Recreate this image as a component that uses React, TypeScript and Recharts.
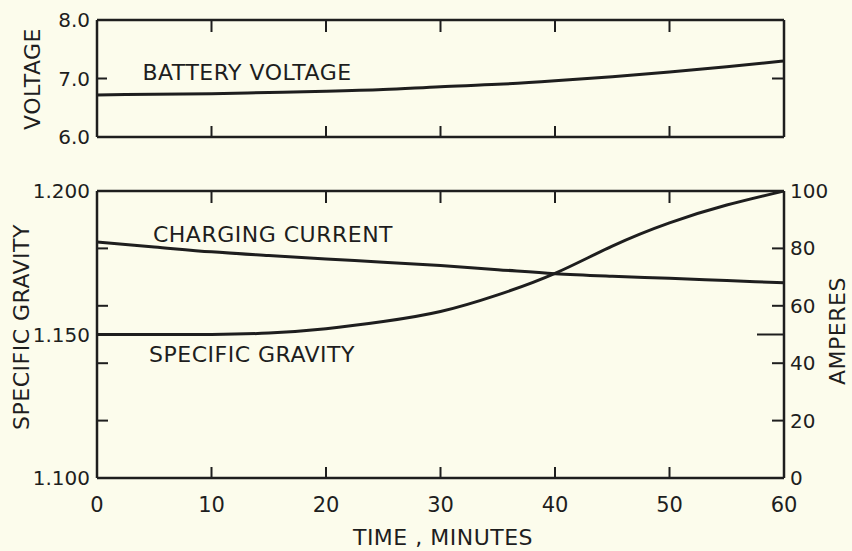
import React from 'react';
import { LineChart, Line, XAxis, YAxis } from 'recharts';

const minutes = [0, 5, 10, 15, 20, 25, 30, 35, 40, 45, 50, 55, 60];
const batteryVoltage = [6.72, 6.73, 6.74, 6.76, 6.78, 6.81, 6.86, 6.9, 6.96, 7.03, 7.11, 7.2, 7.3];
const specificGravity = [1.15, 1.15, 1.15, 1.1505, 1.152, 1.1545, 1.158, 1.1638, 1.1713, 1.1808, 1.1889, 1.1951, 1.2];
const chargingCurrent = [82.2, 80.5, 78.8, 77.5, 76.3, 75.2, 74.0, 72.6, 71.2, 70.3, 69.6, 68.8, 68.0];

const timeTicks = [0, 10, 20, 30, 40, 50, 60];
const voltageTicks = [6, 7, 8];
const gravityTicks = [1.1, 1.12, 1.14, 1.15, 1.16, 1.18, 1.2];
const gravityLabels = [1.1, 1.15, 1.2];
const ampereTicks = [0, 20, 40, 50, 60, 80, 100];
const ampereLabels = [0, 20, 40, 60, 80, 100];

const voltageData = minutes.map((t, i) => ({ t, v: batteryVoltage[i] }));
const lowerData = minutes.map((t, i) => ({ t, sg: specificGravity[i], amp: chargingCurrent[i] }));

const ink = '#1e1e1e';
const bg = '#fcfcec';
const font = '"DejaVu Sans", "Liberation Sans", sans-serif';
const tickFont = 20;

// layout
const chartW = 852;
const leftMargin = 37;
const rightMargin = 8;
const yAxisW = 60;
const plotW = chartW - leftMargin - rightMargin - 2 * yAxisW;
const upper = { h: 160, top: 20, bottom: 13, xAxisH: 10 };
const lower = { h: 381, top: 21, bottom: 0, xAxisH: 73 };
const upperPlotH = upper.h - upper.top - upper.bottom - upper.xAxisH;
const lowerPlotH = lower.h - lower.top - lower.bottom - lower.xAxisH;

const near = (a: number, list: number[]) => list.some((b) => Math.abs(a - b) < 1e-6);
const isInner = (v: number) => v > 0 && v < 60;

const makeTimeTick = (plotH: number, withLabel: boolean) => (p: any) => {
  const v = p.payload.value;
  const topY = p.y - plotH;
  return (
    <g>
      {isInner(v) && <line x1={p.x} x2={p.x} y1={p.y} y2={p.y - 11} stroke={ink} strokeWidth={2} />}
      {isInner(v) && <line x1={p.x} x2={p.x} y1={topY} y2={topY + 12} stroke={ink} strokeWidth={2} />}
      {v === 0 && <line x1={p.x} x2={p.x + plotW} y1={topY} y2={topY} stroke={ink} strokeWidth={2.5} />}
      {withLabel && (
        <text x={p.x} y={p.y + 27} textAnchor="middle" dominantBaseline="central" fontFamily={font} fontSize={21} fill={ink}>
          {v}
        </text>
      )}
    </g>
  );
};
const UpperTimeTick = makeTimeTick(upperPlotH, false);
const LowerTimeTick = makeTimeTick(lowerPlotH, true);

const VoltageLeftTick = (p: any) => (
  <g>
    {p.payload.value === 7 && <line x1={p.x} x2={p.x + 10} y1={p.y} y2={p.y} stroke={ink} strokeWidth={2} />}
    <text x={p.x - 7} y={p.y} textAnchor="end" dominantBaseline="central" fontFamily={font} fontSize={tickFont} fill={ink}>
      {p.payload.value.toFixed(1)}
    </text>
  </g>
);
const VoltageRightTick = (p: any) => (
  <g>{p.payload.value === 7 && <line x1={p.x} x2={p.x - 12} y1={p.y} y2={p.y} stroke={ink} strokeWidth={2} />}</g>
);
const GravityTick = (p: any) => {
  const v = p.payload.value;
  const labelled = near(v, gravityLabels);
  return (
    <g>
      {!labelled && <line x1={p.x} x2={p.x + 11} y1={p.y} y2={p.y} stroke={ink} strokeWidth={2} />}
      {labelled && (
        <text x={p.x - 7} y={p.y} textAnchor="end" dominantBaseline="central" fontFamily={font} fontSize={tickFont} fill={ink}>
          {v.toFixed(3)}
        </text>
      )}
    </g>
  );
};
const AmpereTick = (p: any) => {
  const v = p.payload.value;
  const labelled = near(v, ampereLabels);
  const len = v === 50 ? 27 : 12;
  return (
    <g>
      {v > 0 && v < 100 && <line x1={p.x} x2={p.x - len} y1={p.y} y2={p.y} stroke={ink} strokeWidth={2} />}
      {labelled && (
        <text x={p.x + 6} y={p.y} textAnchor="start" dominantBaseline="central" fontFamily={font} fontSize={tickFont} fill={ink}>
          {v}
        </text>
      )}
    </g>
  );
};

const axisLine = { stroke: ink, strokeWidth: 2.5 };

const textStyle: React.CSSProperties = {
  position: 'absolute',
  fontFamily: font,
  fontSize: 22,
  lineHeight: 1,
  color: ink,
  whiteSpace: 'nowrap',
  letterSpacing: 0.5,
};

const Label = ({ x, y, text, rotate }: { x: number; y: number; text: string; rotate?: boolean }) => (
  <div style={{ ...textStyle, left: x, top: y, transform: `translate(-50%, -50%)${rotate ? ' rotate(-90deg)' : ''}` }}>{text}</div>
);

export default function App() {
  return (
    <div style={{ position: 'absolute', left: 0, top: 0, width: 852, height: 551, background: bg, overflow: 'hidden' }}>
      <div style={{ position: 'absolute', left: 0, top: 0 }}>
        <LineChart width={chartW} height={upper.h} data={voltageData} margin={{ top: upper.top, right: rightMargin, bottom: upper.bottom, left: leftMargin }}>
          <XAxis dataKey="t" type="number" domain={[0, 60]} ticks={timeTicks} interval={0} height={upper.xAxisH} tickSize={0} tickMargin={0} axisLine={axisLine} tickLine={false} tick={UpperTimeTick} allowDataOverflow />
          <YAxis yAxisId="v" type="number" domain={[6, 8]} ticks={voltageTicks} interval={0} width={yAxisW} tickSize={0} tickMargin={0} axisLine={axisLine} tickLine={false} tick={VoltageLeftTick} allowDataOverflow />
          <YAxis yAxisId="vr" orientation="right" type="number" domain={[6, 8]} ticks={voltageTicks} interval={0} width={yAxisW} tickSize={0} tickMargin={0} axisLine={axisLine} tickLine={false} tick={VoltageRightTick} allowDataOverflow />
          <Line yAxisId="v" dataKey="v" type="monotone" stroke={ink} strokeWidth={3} dot={false} isAnimationActive={false} />
        </LineChart>
      </div>
      <div style={{ position: 'absolute', left: 0, top: 170 }}>
        <LineChart width={chartW} height={lower.h} data={lowerData} margin={{ top: lower.top, right: rightMargin, bottom: lower.bottom, left: leftMargin }}>
          <XAxis dataKey="t" type="number" domain={[0, 60]} ticks={timeTicks} interval={0} height={lower.xAxisH} tickSize={0} tickMargin={0} axisLine={axisLine} tickLine={false} tick={LowerTimeTick} allowDataOverflow />
          <YAxis yAxisId="sg" type="number" domain={[1.1, 1.2]} ticks={gravityTicks} interval={0} width={yAxisW} tickSize={0} tickMargin={0} axisLine={axisLine} tickLine={false} tick={GravityTick} allowDataOverflow />
          <YAxis yAxisId="amp" orientation="right" type="number" domain={[0, 100]} ticks={ampereTicks} interval={0} width={yAxisW} tickSize={0} tickMargin={0} axisLine={axisLine} tickLine={false} tick={AmpereTick} allowDataOverflow />
          <Line yAxisId="amp" dataKey="amp" type="monotone" stroke={ink} strokeWidth={3} dot={false} isAnimationActive={false} />
          <Line yAxisId="sg" dataKey="sg" type="natural" stroke={ink} strokeWidth={3} dot={false} isAnimationActive={false} />
        </LineChart>
      </div>
      <Label x={33} y={79} text="VOLTAGE" rotate />
      <Label x={22} y={327} text="SPECIFIC GRAVITY" rotate />
      <Label x={838} y={331} text="AMPERES" rotate />
      <Label x={247} y={73} text="BATTERY VOLTAGE" />
      <Label x={273} y={235} text="CHARGING CURRENT" />
      <Label x={252} y={355} text="SPECIFIC GRAVITY" />
      <Label x={443} y={538} text="TIME , MINUTES" />
    </div>
  );
}
